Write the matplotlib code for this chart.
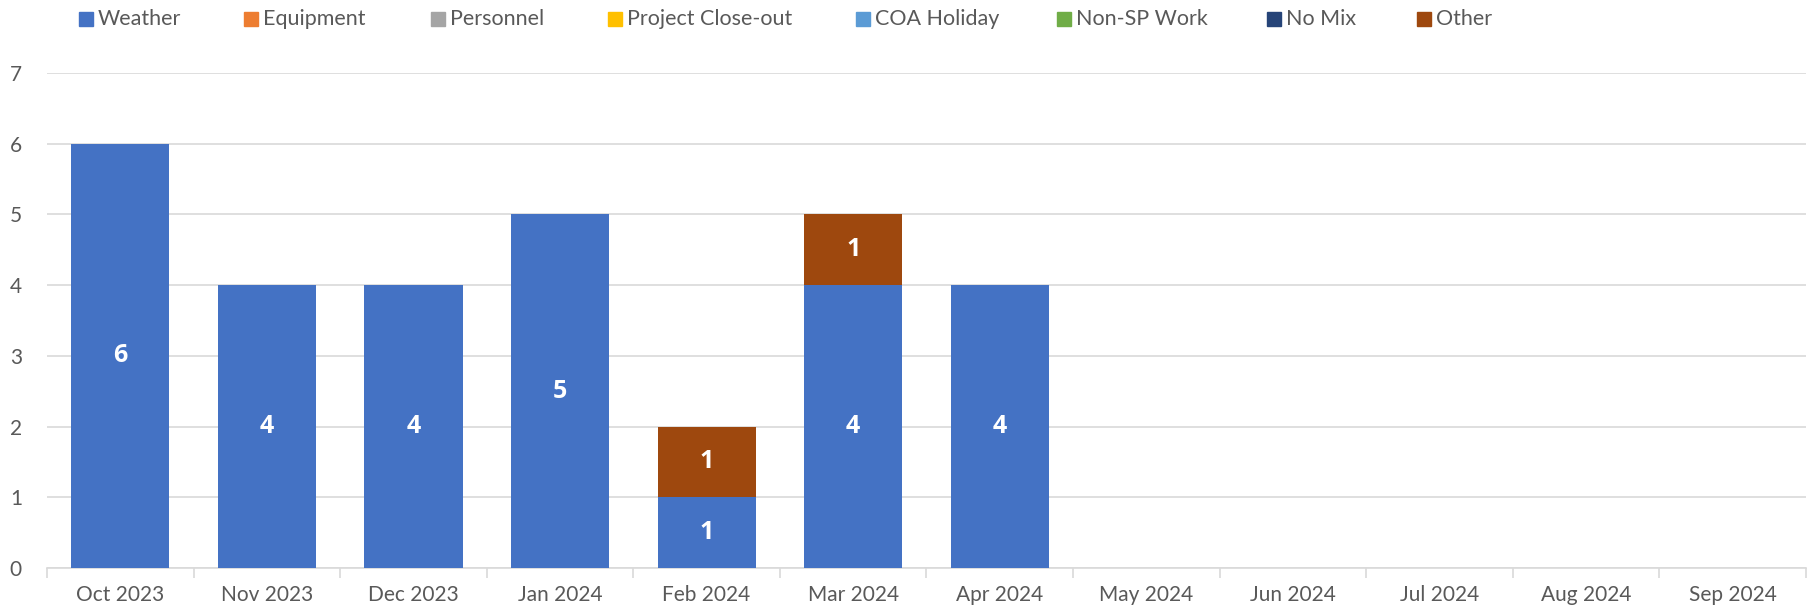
import matplotlib.pyplot as plt
from matplotlib.patches import Rectangle
import numpy as np

plt.rcParams['font.family'] = ['Lato', 'DejaVu Sans']

months = ['Oct 2023', 'Nov 2023', 'Dec 2023', 'Jan 2024', 'Feb 2024', 'Mar 2024',
          'Apr 2024', 'May 2024', 'Jun 2024', 'Jul 2024', 'Aug 2024', 'Sep 2024']
series_names = ['Weather', 'Equipment', 'Personnel', 'Project Close-out',
                'COA Holiday', 'Non-SP Work', 'No Mix', 'Other']
weather = [6, 4, 4, 5, 1, 4, 4, 0, 0, 0, 0, 0]
equipment = [0] * 12
personnel = [0] * 12
closeout = [0] * 12
coa_holiday = [0] * 12
non_sp = [0] * 12
no_mix = [0] * 12
other = [0, 0, 0, 0, 1, 1, 0, 0, 0, 0, 0, 0]
colors = ['#4472C4', '#ED7D31', '#A5A5A5', '#FFC000',
          '#5B9BD5', '#70AD47', '#264478', '#9E480E']

all_series = [weather, equipment, personnel, closeout, coa_holiday, non_sp, no_mix, other]

W, H = 1815, 613
fig = plt.figure(figsize=(W / 100, H / 100), dpi=100)
ax = fig.add_axes([47 / W, 1 - 568 / H, (1806 - 47) / W, (568 - 73) / H])

x = np.arange(len(months))
bottom = np.zeros(len(months))
for name, vals, c in zip(series_names, all_series, colors):
    vals = np.array(vals, dtype=float)
    ax.bar(x, vals, 0.67, bottom=bottom, color=c, label=name, zorder=3)
    for xi, v, bt in zip(x, vals, bottom):
        if v > 0:
            ax.text(xi, bt + v / 2, f'{int(v)}', ha='center', va='center',
                    color='white', fontsize=18, fontweight='bold',
                    family=['Open Sans', 'DejaVu Sans'], zorder=4)
    bottom += vals

ax.set_xlim(-0.5, len(months) - 0.5)
ax.set_ylim(0, 7)
ax.set_yticks(range(8))
ax.yaxis.grid(True, color='#D9D9D9', linewidth=1.2, zorder=0)
for s in ['top', 'right', 'left']:
    ax.spines[s].set_visible(False)
ax.spines['bottom'].set_color('#D9D9D9')
ax.spines['bottom'].set_linewidth(1.2)
ax.set_xticks(x)
ax.set_xticklabels(months)
ax.set_xticks(np.arange(-0.5, len(months), 1), minor=True)
ax.tick_params(axis='x', which='major', length=0, pad=12, labelsize=15, labelcolor='#595959')
ax.tick_params(axis='x', which='minor', length=7, color='#D9D9D9', width=1.2)
ax.tick_params(axis='y', length=0, pad=18, labelsize=15, labelcolor='#595959')

# legend drawn by hand so the entries sit where Excel put them
legend_x = [79, 244, 431, 608, 856, 1057, 1267, 1417]
for lx, name, c in zip(legend_x, series_names, colors):
    fig.add_artist(Rectangle((lx / W, 1 - 26 / H), 14 / W, 14 / H,
                             transform=fig.transFigure, color=c))
    fig.text((lx + 19) / W, 1 - 19 / H, name, ha='left', va='center',
             fontsize=15.5, color='#595959')

fig.savefig('out.png', dpi=100)
